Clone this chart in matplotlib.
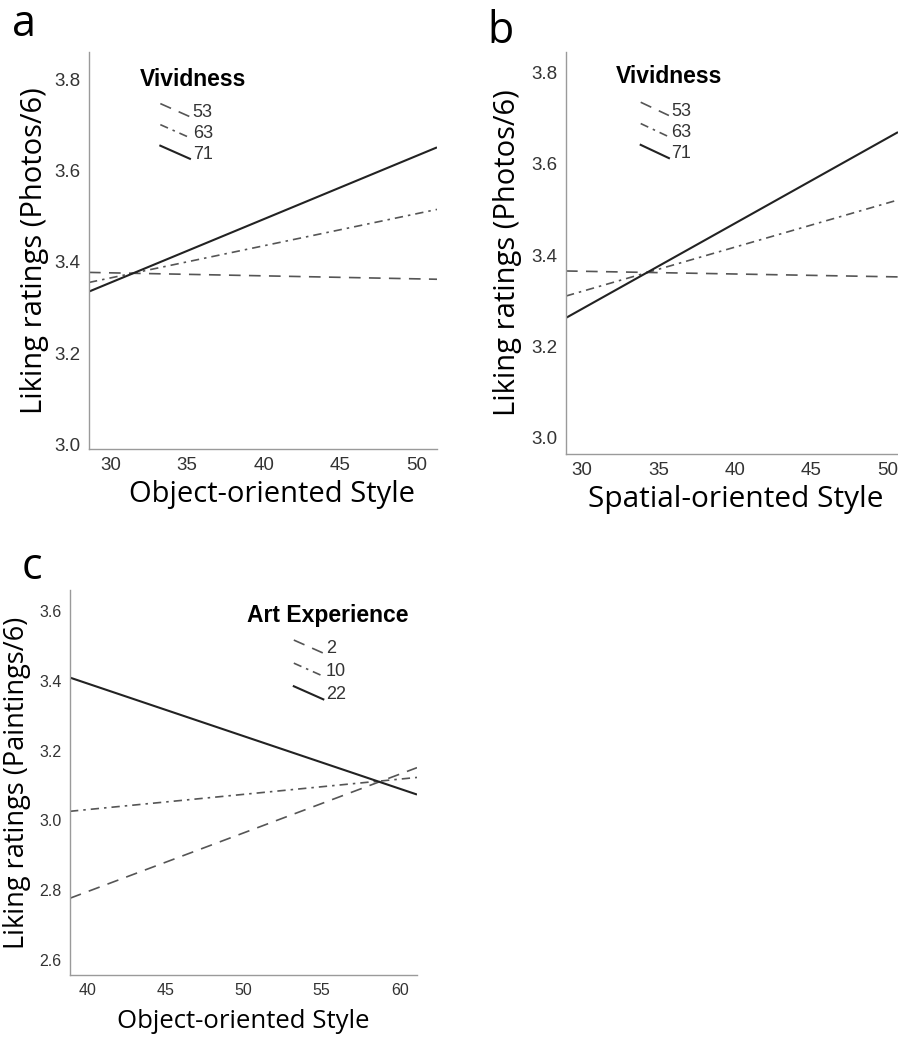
import matplotlib
matplotlib.use("Agg")
import matplotlib.pyplot as plt
from matplotlib.lines import Line2D

# ---------------- data ----------------
viv_levels = ["53", "63", "71"]
art_levels = ["2", "10", "22"]

a_x = [28.6, 51.3]
a_start = [3.377, 3.355, 3.335]
a_end = [3.362, 3.515, 3.651]

b_x = [28.95, 50.7]
b_start = [3.365, 3.310, 3.262]
b_end = [3.352, 3.521, 3.670]

c_x = [38.9, 61.1]
c_start = [2.777, 3.026, 3.409]
c_end = [3.151, 3.123, 3.074]

a_xticks = [30, 35, 40, 45, 50]
a_yticks = [3.0, 3.2, 3.4, 3.6, 3.8]
c_xticks = [40, 45, 50, 55, 60]
c_yticks = [2.6, 2.8, 3.0, 3.2, 3.4, 3.6]

# ---------------- styles ----------------
styles = [
    dict(color="#555555", lw=1.2, dashes=(7, 5)),
    dict(color="#555555", lw=1.2, dashes=(5, 3, 1.5, 3)),
    dict(color="#222222", lw=1.5, linestyle="-"),
]

W, H = 898, 1051
fig = plt.figure(figsize=(W / 100, H / 100), dpi=100)


def rect(l, r, t, b):
    return [l / W, 1 - b / H, (r - l) / W, (b - t) / H]


def style_ax(ax, xticks, yticks, xlim, ylim, xlabel, ylabel, tick_fs=13.5,
             xl_fs=21, yl_fs=21, ylpad=7, xlpad=4, xl_x=0.5):
    for s in ["top", "right"]:
        ax.spines[s].set_visible(False)
    for s in ["left", "bottom"]:
        ax.spines[s].set_color("#9a9a9a")
        ax.spines[s].set_linewidth(1.0)
    ax.set_xlim(*xlim)
    ax.set_ylim(*ylim)
    ax.set_xticks(xticks)
    ax.set_yticks(yticks)
    ax.set_xticklabels([f"{v}" for v in xticks], fontsize=tick_fs,
                       family="Liberation Sans", color="#333333")
    ax.set_yticklabels([f"{v:.1f}" for v in yticks], fontsize=tick_fs,
                       family="Liberation Sans", color="#333333")
    ax.tick_params(length=0, pad=6)
    ax.set_xlabel(xlabel, fontsize=xl_fs, family="Open Sans", labelpad=xlpad,
                  x=xl_x)
    ax.set_ylabel(ylabel, fontsize=yl_fs, family="Open Sans", labelpad=ylpad)


def draw_lines(ax, xr, starts, ends):
    for s, e, st in zip(starts, ends, styles):
        ax.plot(xr, [s, e], **st, solid_capstyle="butt")


def draw_legend(ax, title, labels, tx, ty, lx, ly, dy, dx=0.085, ddy=0.033,
                title_fs=16.5, lab_fs=13):
    ax.text(tx, ty, title, transform=ax.transAxes, fontsize=title_fs,
            fontweight="bold", family="Liberation Sans", va="center",
            ha="left")
    for i, (lab, st) in enumerate(zip(labels, styles)):
        y0 = ly - i * dy
        ln = Line2D([lx, lx + dx], [y0, y0 - ddy],
                    transform=ax.transAxes, **st)
        ax.add_line(ln)
        ax.text(lx + dx + 0.008, y0 - 0.022, lab, transform=ax.transAxes,
                fontsize=lab_fs, family="Liberation Sans", color="#333333",
                va="center", ha="left")


# panel a
axa = fig.add_axes(rect(89, 437, 52, 449))
draw_lines(axa, a_x, a_start, a_end)
style_ax(axa, a_xticks, a_yticks, (28.6, 51.3), (2.99, 3.86),
         "Object-oriented Style", "Liking ratings (Photos/6)", ylpad=4,
         xl_x=0.525)
draw_legend(axa, "Vividness", viv_levels, 0.145, 0.93, 0.205, 0.87, 0.053)
fig.text(12 / W, 1 - 25 / H, "a", fontsize=31, family="Open Sans",
         va="center", ha="left")

# panel b
axb = fig.add_axes(rect(566, 898, 52, 454))
draw_lines(axb, b_x, b_start, b_end)
style_ax(axb, a_xticks, a_yticks, (28.95, 50.7), (2.963, 3.846),
         "Spatial-oriented Style", "Liking ratings (Photos/6)", xl_fs=21.5,
         xl_x=0.51)
draw_legend(axb, "Vividness", viv_levels, 0.15, 0.94, 0.225, 0.875, 0.053)
fig.text(487 / W, 1 - 32 / H, "b", fontsize=31, family="Open Sans",
         va="center", ha="left")

# panel c
axc = fig.add_axes(rect(70, 417, 590, 975))
draw_lines(axc, c_x, c_start, c_end)
style_ax(axc, c_xticks, c_yticks, (38.9, 61.1), (2.557, 3.66),
         "Object-oriented Style", "Liking ratings (Paintings/6)", tick_fs=11.5,
         xl_fs=18.5, yl_fs=19.5, ylpad=6, xlpad=8)
draw_legend(axc, "Art Experience", art_levels, 0.51, 0.935, 0.645, 0.87,
            0.06, dx=0.085, ddy=0.034, title_fs=16.5, lab_fs=13)
fig.text(22 / W, 1 - 568 / H, "c", fontsize=31, family="Open Sans",
         va="center", ha="left")

fig.savefig("out.png", dpi=100, facecolor="white")
